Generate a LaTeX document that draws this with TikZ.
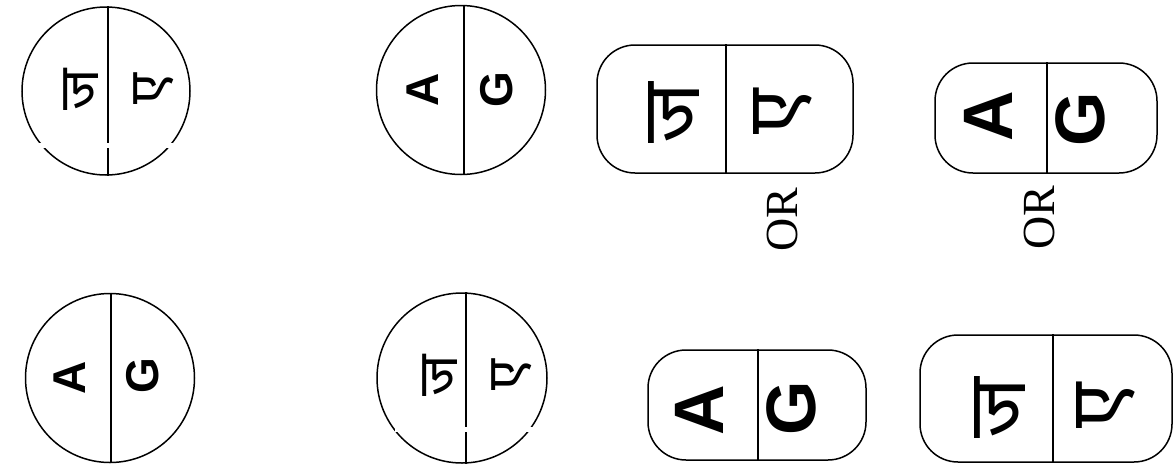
\documentclass[tikz,border=0pt]{standalone}
\usepackage{fontspec}
\setmainfont{Liberation Serif}
\newfontfamily\latinbold{Liberation Sans}
\newfontfamily\deva[Script=Devanagari]{Noto Sans}
\begin{document}
\begin{tikzpicture}[x=1pt,y=-1pt,
  ring/.style={draw, line width=1.5pt, circle, inner sep=0pt},
  pill/.style={draw, line width=1.5pt, rectangle, rounded corners=38pt, inner sep=0pt},
  split/.style={line width=1.5pt},
  glyphsmall/.style={rotate=90, inner sep=0pt, font=\latinbold\bfseries\fontsize{46}{46}\selectfont},
  glyphbig/.style={rotate=90, inner sep=0pt, font=\latinbold\bfseries\fontsize{70}{70}\selectfont},
  devsmall/.style={rotate=90, inner sep=0pt, font=\deva\bfseries\fontsize{56}{56}\selectfont},
  devbig/.style={rotate=90, inner sep=0pt, font=\deva\bfseries\fontsize{82}{82}\selectfont},
  ortext/.style={rotate=90, inner sep=0pt, font=\fontsize{46}{46}\selectfont},
  gap/.style={fill=white, draw=none}
]
\useasboundingbox (0,0) rectangle (1176,464);

% circles
\node[ring, minimum size=168pt] (c1) at (106,91) {};
\node[ring, minimum size=169pt] (c2) at (461,90) {};
\node[ring, minimum size=169pt] (c5) at (110,378) {};
\node[ring, minimum size=170pt] (c6) at (462,378) {};
\coordinate (d1) at (108,0);
\coordinate (d2) at (464,0);
\coordinate (d5) at (111,0);
\coordinate (d6) at (466,0);
\draw[split] (c1.north -| d1) -- (c1.south -| d1);
\draw[split] (c2.north -| d2) -- (c2.south -| d2);
\draw[split] (c5.north -| d5) -- (c5.south -| d5);
\draw[split] (c6.north -| d6) -- (c6.south -| d6);

% pills
\node[pill, minimum width=256pt, minimum height=128pt] (p3) at (725,109) {};
\node[pill, minimum width=222pt, minimum height=110pt] (p4) at (1046,118) {};
\node[pill, minimum width=218pt, minimum height=110pt] (p7) at (757,405) {};
\node[pill, minimum width=252pt, minimum height=127pt] (p8) at (1046,398.5) {};
\coordinate (d3) at (726,0);
\coordinate (d4) at (1047,0);
\coordinate (d7) at (758,0);
\coordinate (d8) at (1053,0);
\draw[split] (p3.north -| d3) -- (p3.south -| d3);
\draw[split] (p4.north -| d4) -- (p4.south -| d4);
\draw[split] (p7.north -| d7) -- (p7.south -| d7);
\draw[split] (p8.north -| d8) -- (p8.south -| d8);

% scan gaps
\fill[gap] (30,143) rectangle (180,148);
\fill[gap] (395,427) rectangle (535,432);

% letters
\node[devsmall] (t1a) at (81,90) {ज};
\node[devsmall] (t1b) at (154,89) {ए};
\node[glyphsmall] (t2a) at (423,90) {A};
\node[glyphsmall] (t2b) at (497,90) {G};
\node[devbig] (t3a) at (674,113) {ज};
\node[devbig] (t3b) at (783,112) {ए};
\node[glyphbig] (t4a) at (988,116) {A};
\node[glyphbig] (t4b) at (1080,119) {G};
\node[ortext] (or1) at (782,220) {OR};
\node[ortext] (or2) at (1039,218) {OR};
\node[glyphsmall] (t5a) at (70,378) {A};
\node[glyphsmall] (t5b) at (143,376) {G};
\node[devsmall] (t6a) at (440,376) {ज};
\node[devsmall] (t6b) at (512,375) {ए};
\node[glyphbig] (t7a) at (699,410) {A};
\node[glyphbig] (t7b) at (791,408) {G};
\node[devbig] (t8a) at (1000,408) {ज};
\node[devbig] (t8b) at (1106,406) {ए};
\end{tikzpicture}
\end{document}
